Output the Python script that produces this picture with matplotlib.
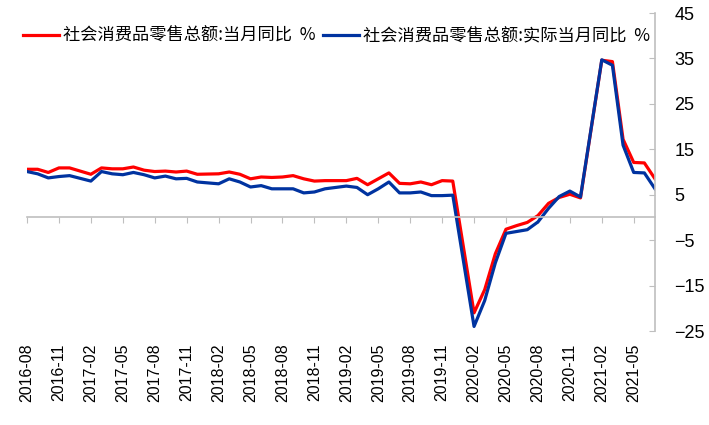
import numpy as np
import pandas as pd
import matplotlib
matplotlib.use('Agg')
import matplotlib.pyplot as plt

# 月度数据 2016-08 ~ 2021-07, 1月份无单月数据(None)
months = pd.date_range('2016-08-01', '2021-07-01', freq='MS').strftime('%Y-%m').tolist()

nominal = [10.6, 10.6, 9.9, 10.9, 10.9,
           None, 9.5, 10.9, 10.7, 10.7, 11.1, 10.4, 10.1, 10.2, 10.0, 10.2, 9.5,
           None, 9.6, 10.0, 9.5, 8.5, 8.9, 8.8, 8.9, 9.2, 8.5, 8.0, 8.1,
           None, 8.1, 8.6, 7.2, 8.5, 9.8, 7.5, 7.4, 7.8, 7.2, 8.1, 8.0,
           None, -21.0, -15.9, -8.0, -2.6, -1.8, -1.1, 0.4, 3.1, 4.4, 5.1, 4.3,
           None, 34.6, 34.3, 17.2, 12.1, 12.0, 8.5]

real = [10.1, 9.6, 8.7, 9.0, 9.2,
        None, 8.0, 10.1, 9.6, 9.4, 9.9, 9.4, 8.7, 9.1, 8.5, 8.6, 7.8,
        None, 7.4, 8.5, 7.8, 6.7, 7.0, 6.3, 6.3, 6.3, 5.4, 5.6, 6.3,
        None, 6.9, 6.6, 5.0, 6.3, 7.8, 5.4, 5.4, 5.6, 4.8, 4.8, 4.9,
        None, -24.0, -18.3, -10.0, -3.5, -3.1, -2.7, -1.0, 2.0, 4.6, 5.8, 4.5,
        None, 34.7, 33.5, 15.9, 9.9, 9.8, 6.3]

labels = ['社会消费品零售总额:当月同比  %', '社会消费品零售总额:实际当月同比  %']
yticks = [-25, -15, -5, 5, 15, 25, 35, 45]

cjk = ['Noto Sans CJK SC', 'DejaVu Sans']
grey = '#BFBFBF'

x = np.arange(len(months))
s1 = pd.Series(nominal, dtype=float)
s2 = pd.Series(real, dtype=float)

fig = plt.figure(figsize=(7.09, 4.25), dpi=100)
ax = fig.add_axes([27 / 709, 1 - 331 / 425, (655 - 27) / 709, (331 - 13) / 425])

m1 = s1.notna().values
m2 = s2.notna().values
ax.plot(x[m1], s1[m1], color='#FF0000', lw=2.3, solid_joinstyle='round', label=labels[0])
ax.plot(x[m2], s2[m2], color='#0033A0', lw=2.3, solid_joinstyle='round', label=labels[1])

ax.set_xlim(0, len(months) - 1)
ax.set_ylim(-25, 45)

# 右侧y轴
ax.yaxis.tick_right()
ax.set_yticks(yticks)
ax.tick_params(axis='y', direction='in', length=4, color=grey, pad=14,
               labelsize=13, labelcolor='black')
for lab in ax.get_yticklabels():
    lab.set_family('Liberation Sans')
ax.spines['left'].set_visible(False)
ax.spines['top'].set_visible(False)
ax.spines['right'].set_color(grey)
ax.spines['right'].set_linewidth(1.2)

# x轴线在0处, 标签放在底部
tick_pos = x[::3]
ax.spines['bottom'].set_position(('data', 0))
ax.spines['bottom'].set_color(grey)
ax.spines['bottom'].set_linewidth(1.2)
ax.set_xticks(tick_pos)
ax.tick_params(axis='x', direction='out', length=4, color=grey, labelbottom=False)

sec = ax.secondary_xaxis('bottom')
sec.set_xticks(tick_pos)
sec.set_xticklabels([months[i] for i in tick_pos], rotation=90,
                    family='Liberation Sans', fontsize=11.5)
sec.tick_params(length=0, pad=9)
sec.spines['bottom'].set_visible(False)

leg = ax.legend(loc='center left', bbox_to_anchor=(23 / 709, 1 - 36 / 425),
                bbox_transform=fig.transFigure, ncol=2, frameon=False,
                borderpad=0, borderaxespad=0, handlelength=2.1,
                handletextpad=0.25, columnspacing=0.4,
                prop={'family': cjk, 'size': 12.4})

fig.savefig('out.png', dpi=100)
